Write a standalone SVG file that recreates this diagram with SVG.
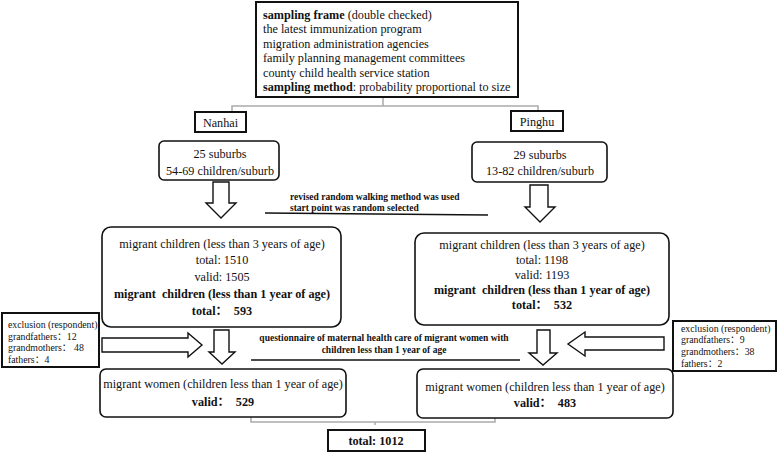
<svg xmlns="http://www.w3.org/2000/svg" width="778" height="453" viewBox="0 0 778 453">
<style>
text{font-family:"Liberation Serif","Times New Roman","Noto Sans CJK SC",serif;fill:#111}
.t{font-size:12.2px}
.s{font-size:9.8px}
.b{font-weight:bold}
.c{text-anchor:middle}
.q{font-size:9.5px;font-weight:bold}
.box{fill:#fff;stroke:#111;stroke-width:2}
.rbox{fill:#fff;stroke:#111;stroke-width:1.6}
.arr{fill:#fff;stroke:#111;stroke-width:1.4;stroke-linejoin:miter}
.gray{fill:none;stroke:#aaa;stroke-width:1.5}
.ln{stroke:#111;stroke-width:1.3}
</style>
<rect width="778" height="453" fill="#fff"/>
<g id="connectors">
<path class="gray" d="M383,97V106M232,112V106H538V111"/>
<path class="gray" d="M251,417V422H495V417M375,422V425"/>
<polygon class="arr" points="213,182 229,182 229,203 236,203 221,218 206,203 213,203"/>
<polygon class="arr" points="530,185 548,185 548,207 555,207 540,222 525,207 530,207"/>
<polygon class="arr" points="102,338 188,338 188,333 202,345 188,357 188,352 102,352"/>
<polygon class="arr" points="214,330 229,330 229,352 235,352 222,364 209,352 214,352"/>
<polygon class="arr" points="537,330 550,330 550,353 557,353 543,365 529,353 537,353"/>
<polygon class="arr" points="664,337 585,337 585,332 568,344 585,356 585,350 664,350"/>
<line class="ln" x1="265" y1="213" x2="488" y2="215"/>
<line class="ln" x1="251" y1="360" x2="520" y2="360"/>
</g>
<g id="sampling-frame">
<rect class="box" x="256" y="2" width="262" height="95"/>
<text class="t" x="263" y="18.5"><tspan class="b">sampling frame</tspan> (double checked)</text>
<text class="t" x="263" y="33">the latest immunization program</text>
<text class="t" x="263" y="47.5">migration administration agencies</text>
<text class="t" x="263" y="62">family planning management committees</text>
<text class="t" x="263" y="76.5">county child health service station</text>
<text class="t" x="263" y="91"><tspan class="b">sampling method</tspan>: probability proportional to size</text>
</g>
<g id="nanhai">
<rect class="box" x="195" y="112" width="51" height="20"/>
<text class="t c" x="220.5" y="126.5">Nanhai</text>
</g>
<g id="pinghu">
<rect class="box" x="511" y="111" width="52" height="20"/>
<text class="t c" x="537" y="125.5">Pinghu</text>
</g>
<g id="nanhai-suburbs">
<rect class="rbox" x="159" y="141" width="120" height="39" rx="5"/>
<text class="t c" x="220" y="157.5">25 suburbs</text>
<text class="t c" x="220" y="174.5">54-69 children/suburb</text>
</g>
<g id="pinghu-suburbs">
<rect class="rbox" x="472" y="142" width="135" height="40" rx="5"/>
<text class="t c" x="540" y="159">29 suburbs</text>
<text class="t c" x="540" y="175">13-82 children/suburb</text>
</g>
<g id="walking-note">
<text class="q" x="290" y="199.5">revised random walking method was used</text>
<text class="q" x="290" y="210.5">start point was random selected</text>
</g>
<g id="nanhai-children">
<rect class="rbox" x="102" y="227" width="239" height="100" rx="9"/>
<text class="t c" x="222" y="247.5">migrant children (less than 3 years of age)</text>
<text class="t c" x="222" y="264">total: 1510</text>
<text class="t c" x="222" y="281">valid: 1505</text>
<text class="t c b" x="222" y="298" xml:space="preserve">migrant  children (less than 1 year of age)</text>
<text class="t c b" x="222" y="315" xml:space="preserve">total：  593</text>
</g>
<g id="pinghu-children">
<rect class="rbox" x="415" y="233" width="254" height="92" rx="9"/>
<text class="t c" x="542" y="248.5">migrant children (less than 3 years of age)</text>
<text class="t c" x="542" y="263.5">total: 1198</text>
<text class="t c" x="542" y="278.5">valid: 1193</text>
<text class="t c b" x="542" y="293.5" xml:space="preserve">migrant  children (less than 1 year of age)</text>
<text class="t c b" x="542" y="309" xml:space="preserve">total：  532</text>
</g>
<g id="nanhai-exclusion">
<rect class="box" x="2" y="313" width="97" height="54"/>
<text class="s" x="8" y="328">exclusion (respondent)</text>
<text class="s" x="8" y="339.5">grandfathers：12</text>
<text class="s" x="8" y="351">grandmothers：  48</text>
<text class="s" x="8" y="362.5">fathers：4</text>
</g>
<g id="pinghu-exclusion">
<rect class="box" x="673" y="321" width="103" height="50"/>
<text class="s" x="681" y="331.5">exclusion (respondent)</text>
<text class="s" x="681" y="343">grandfathers：9</text>
<text class="s" x="681" y="355">grandmothers：38</text>
<text class="s" x="681" y="366.5">fathers：2</text>
</g>
<g id="questionnaire-note">
<text class="q c" x="384" y="340.5">questionnaire of maternal health care of migrant women with</text>
<text class="q c" x="384" y="352.5">children less than 1 year of age</text>
</g>
<g id="nanhai-women">
<rect class="rbox" x="100" y="369" width="246" height="48" rx="6"/>
<text class="t c" x="223" y="387.5">migrant women (children less than 1 year of age)</text>
<text class="t c b" x="223" y="405.5" xml:space="preserve">valid：  529</text>
</g>
<g id="pinghu-women">
<rect class="rbox" x="417" y="369" width="256" height="49" rx="6"/>
<text class="t c" x="545" y="391">migrant women (children less than 1 year of age)</text>
<text class="t c b" x="545" y="406.5" xml:space="preserve">valid：  483</text>
</g>
<g id="total">
<rect class="box" x="328" y="430" width="97" height="21"/>
<text class="t c b" x="376" y="445">total: 1012</text>
</g>
</svg>
